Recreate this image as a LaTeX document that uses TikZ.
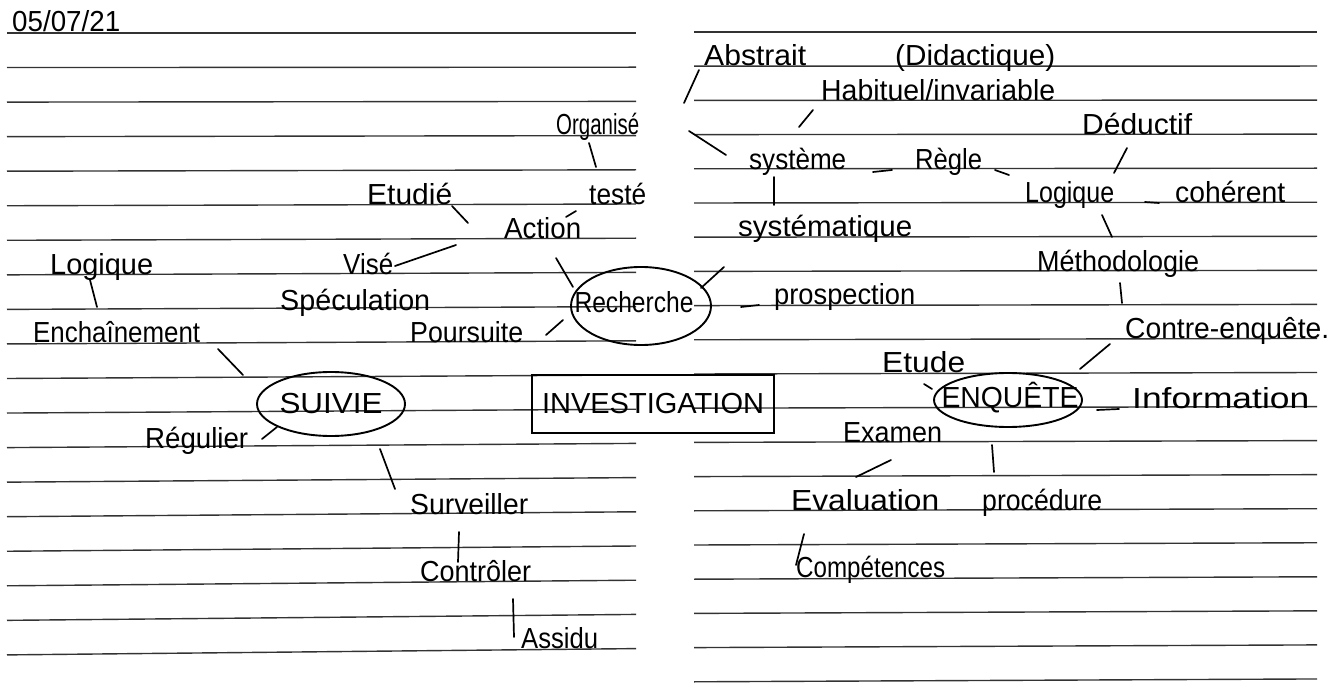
\documentclass[tikz,border=0pt]{standalone}
\usepackage{fontspec}
\setmainfont{Liberation Sans}
\usetikzlibrary{calc}
\newsavebox\hwbox
\newcommand{\hw}[2]{\sbox\hwbox{#2}\pgfmathsetmacro\hwsc{#1/\the\wd\hwbox}\scalebox{\hwsc}[1]{\usebox\hwbox}}

\begin{document}
\begin{tikzpicture}[x=1pt, y=-1pt,
  rule/.style={black!80, line width=1.4pt},
  word/.style={anchor=base west, inner sep=0pt, font=\fontsize{29}{34}\selectfont},
  blob/.style={inner sep=0pt, font=\fontsize{29}{34}\selectfont},
  link/.style={line width=1.7pt, line cap=round},
  loop/.style={line width=1.9pt}]

\fill[white] (0,0) rectangle (1338,684);
\useasboundingbox (0,0) rectangle (1338,684);

% ruled lines of the two pages
\foreach \k in {0,...,18}
 \draw[rule] (7,{33+34.55*\k})--(636,{33+34.2*\k});
\foreach \k in {0,...,19}
 \draw[rule] (694,{32+34.2*\k})--(1317,{32+34.05*\k});

% left page
\node[word] (date) at (12,32) {\hw{108}{05/07/21}};
\node[word] (org) at (556,135) {\hw{83}{Organisé}};
\node[word] (teste) at (589,205) {\hw{57}{testé}};
\node[word] (etudie) at (367,205) {\hw{85}{Etudié}};
\node[word] (action) at (504,239) {\hw{77}{Action}};
\node[word] (vise) at (343,275) {\hw{50}{Visé}};
\node[word] (logiqueA) at (50,275) {\hw{103}{Logique}};
\node[word] (specu) at (280,311) {\hw{150}{Spéculation}};
\node[word] (poursuite) at (410,343) {\hw{113}{Poursuite}};
\node[word] (enchaine) at (33,343) {\hw{167}{Enchaînement}};
\node[blob] (recherche) at (634,302) {\hw{119}{Recherche}};
\node[blob] (suivie) at (331,404) {\hw{103}{SUIVIE}};
\node[word] (regulier) at (145,448) {\hw{103}{Régulier}};
\node[word] (surveiller) at (410,514) {\hw{118}{Surveiller}};
\node[word] (controler) at (420,581) {\hw{111}{Contrôler}};
\node[word] (assidu) at (521,648) {\hw{77}{Assidu}};
\node[blob, draw, line width=1.8pt, minimum width=242pt, minimum height=58pt] (invest) at (653,404) {\hw{222}{INVESTIGATION}};

\draw[loop] ([shift={(7,4)}]recherche.center) ellipse [x radius=70, y radius=39];
\draw[loop] (suivie.center) ellipse [x radius=74, y radius=32];

\draw[link] ([shift={(33,8)}]org.base west)--([shift={(7,-38)}]teste.base west);
\draw[link] ([shift={(-13,6)}]teste.base west)--([shift={(62,-22)}]action.base west);
\draw[link] ([shift={(85,1)}]etudie.base west)--([shift={(-36,-16)}]action.base west);
\draw[link] ([shift={(52,-9)}]vise.base west)--([shift={(-48,6)}]action.base west);
\draw[link] ([shift={(52,19)}]action.base west)--([shift={(-61,-15)}]recherche.center);
\draw[link] ([shift={(136,-8)}]poursuite.base west)--([shift={(-71,18)}]recherche.center);
\draw[link] ([shift={(40,5)}]logiqueA.base west)--([shift={(64,-36)}]enchaine.base west);
\draw[link] ([shift={(185,6)}]enchaine.base west)--([shift={(-88,-29)}]suivie.center);
\draw[link] ([shift={(117,-9)}]regulier.base west)--([shift={(-54,23)}]suivie.center);
\draw[link] ([shift={(49,45)}]suivie.center)--([shift={(-15,-25)}]surveiller.base west);
\draw[link] ([shift={(49,18)}]surveiller.base west)--([shift={(38,-19)}]controler.base west);
\draw[link] ([shift={(93,18)}]controler.base west)--([shift={(-7,-11)}]assidu.base west);

% right page
\node[word] (abstrait) at (704,66) {\hw{102}{Abstrait}};
\node[word] (didact) at (895,66) {\hw{160}{(Didactique)}};
\node[word] (habituel) at (821,101) {\hw{234}{Habituel/invariable}};
\node[word] (systeme) at (749,170) {\hw{97}{système}};
\node[word] (regle) at (915,170) {\hw{67}{Règle}};
\node[word] (deductif) at (1082,135) {\hw{110}{Déductif}};
\node[word] (logiqueB) at (1025,203) {\hw{89}{Logique}};
\node[word] (coherent) at (1175,203) {\hw{110}{cohérent}};
\node[word] (systematique) at (738,237) {\hw{174}{systématique}};
\node[word] (methodo) at (1037,272) {\hw{162}{Méthodologie}};
\node[word] (prospection) at (774,305) {\hw{141}{prospection}};
\node[word] (contre) at (1125,338) {\hw{204}{Contre-enquête.}};
\node[word] (etude) at (882,373) {\hw{83}{Etude}};
\node[blob] (enquete) at (1010,398) {\hw{137}{ENQUÊTE}};
\node[word] (information) at (1132,408) {\hw{177}{Information}};
\node[word] (examen) at (843,442) {\hw{99}{Examen}};
\node[word] (evaluation) at (791,510) {\hw{148}{Evaluation}};
\node[word] (procedure) at (982,510) {\hw{120}{procédure}};
\node[word] (competences) at (796,577) {\hw{149}{Compétences}};

\draw[loop] ([shift={(-2,2)}]enquete.center) ellipse [x radius=74, y radius=27];

\draw[link] ([shift={(-5,4)}]abstrait.base west)--([shift={(128,-32)}]org.base west);
\draw[link] ([shift={(133,-4)}]org.base west)--([shift={(-23,-15)}]systeme.base west);
\draw[link] ([shift={(-8,9)}]habituel.base west)--([shift={(50,-43)}]systeme.base west);
\draw[link] ([shift={(124,2)}]systeme.base west)--([shift={(-23,0)}]regle.base west);
\draw[link] ([shift={(25,7)}]systeme.base west)--([shift={(36,-32)}]systematique.base west);
\draw[link] ([shift={(80,0)}]regle.base west)--([shift={(-16,-28)}]logiqueB.base west);
\draw[link] ([shift={(45,13)}]deductif.base west)--([shift={(89,-30)}]logiqueB.base west);
\draw[link] ([shift={(120,-1)}]logiqueB.base west)--([shift={(-16,0)}]coherent.base west);
\draw[link] ([shift={(77,12)}]logiqueB.base west)--([shift={(75,-35)}]methodo.base west);
\draw[link] ([shift={(83,11)}]methodo.base west)--([shift={(-3,-35)}]contre.base west);
\draw[link] ([shift={(-15,6)}]contre.base west)--([shift={(70,-29)}]enquete.center);
\draw[link] ([shift={(42,11)}]etude.base west)--([shift={(-78,-9)}]enquete.center);
\draw[link] ([shift={(87,12)}]enquete.center)--([shift={(-13,1)}]information.base west);
\draw[link] ([shift={(-18,47)}]enquete.center)--([shift={(12,-38)}]procedure.base west);
\draw[link] ([shift={(48,18)}]examen.base west)--([shift={(65,-33)}]evaluation.base west);
\draw[link] ([shift={(13,24)}]evaluation.base west)--([shift={(0,-12)}]competences.base west);
\draw[link] ([shift={(67,-14)}]recherche.center)--([shift={(-14,30)}]systematique.base west);
\draw[link] ([shift={(107,5)}]recherche.center)--([shift={(-15,0)}]prospection.base west);

\end{tikzpicture}
\end{document}
